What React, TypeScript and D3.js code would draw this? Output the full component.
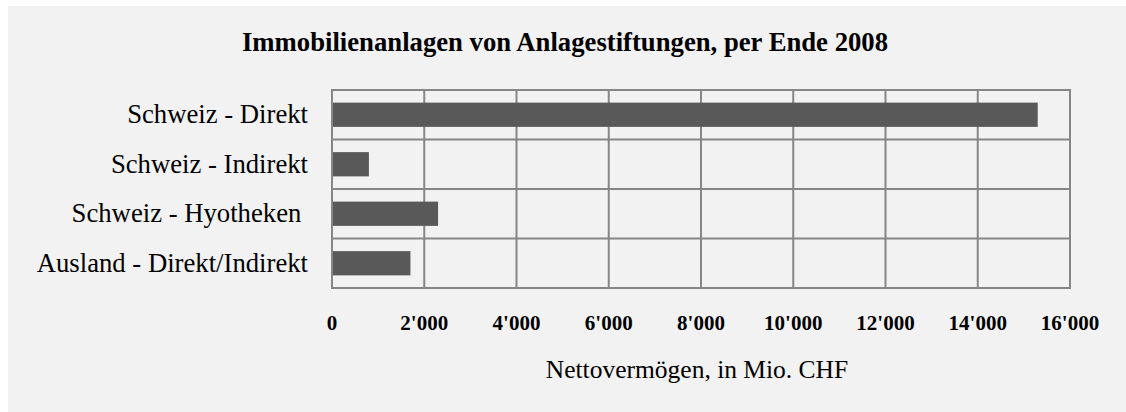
import * as d3 from "d3";

const categories = [
  "Schweiz - Direkt",
  "Schweiz - Indirekt",
  "Schweiz - Hyotheken ",
  "Ausland - Direkt/Indirekt",
];
const values = [15300, 800, 2300, 1700];
const ticks = [0, 2000, 4000, 6000, 8000, 10000, 12000, 14000, 16000];

const W = 1126;
const H = 412;
const plot = { left: 332, right: 1070, top: 90, bottom: 288 };
const font = "'Liberation Serif', 'Times New Roman', serif";

const fmt = (v: number) => d3.format(",")(v).replace(/,/g, "'");

export default function App() {
  const x = d3.scaleLinear().domain([0, 16000]).range([plot.left, plot.right]);
  const y = d3
    .scaleBand()
    .domain(categories)
    .range([plot.top, plot.bottom])
    .paddingInner(0.51)
    .paddingOuter(0.255);
  const bands = d3
    .scaleBand()
    .domain(categories)
    .range([plot.top, plot.bottom]);

  return (
    <svg
      width={W}
      height={H}
      style={{ position: "absolute", left: 0, top: 0, fontFamily: font }}
    >
      <rect x={8} y={6} width={W - 8} height={H - 6} fill="#f2f2f2" />
      <text
        x={565}
        y={51}
        textAnchor="middle"
        fontSize={26.7}
        fontWeight="bold"
        fill="#000"
      >
        Immobilienanlagen von Anlagestiftungen, per Ende 2008
      </text>

      {/* vertical grid */}
      {ticks.map((t) => (
        <line
          key={t}
          x1={x(t)}
          x2={x(t)}
          y1={plot.top}
          y2={plot.bottom}
          stroke="#868686"
          strokeWidth={2}
        />
      ))}
      {/* horizontal band lines */}
      {categories.map((c) => (
        <line
          key={c}
          x1={plot.left}
          x2={plot.right}
          y1={bands(c)!}
          y2={bands(c)!}
          stroke="#868686"
          strokeWidth={2}
        />
      ))}
      <rect
        x={plot.left}
        y={plot.top}
        width={plot.right - plot.left}
        height={plot.bottom - plot.top}
        fill="none"
        stroke="#868686"
        strokeWidth={2}
      />

      {categories.map((c, i) => (
        <rect
          key={c}
          x={x(0) + 1}
          y={y(c)!}
          width={x(values[i]) - x(0) - 1}
          height={y.bandwidth()}
          fill="#595959"
        />
      ))}

      {categories.map((c) => (
        <text
          key={c}
          x={308}
          y={bands(c)! + bands.bandwidth() / 2 + 8.5}
          textAnchor="end"
          fontSize={26.7}
          fill="#000"
          style={{ whiteSpace: "pre" }}
        >
          {c}
        </text>
      ))}

      {ticks.map((t) => (
        <text
          key={t}
          x={x(t)}
          y={330}
          textAnchor="middle"
          fontSize={21}
          fontWeight="bold"
          fill="#000"
        >
          {fmt(t)}
        </text>
      ))}

      <text x={697} y={378} textAnchor="middle" fontSize={25.5} fill="#000">
        Nettovermögen, in Mio. CHF
      </text>
    </svg>
  );
}
